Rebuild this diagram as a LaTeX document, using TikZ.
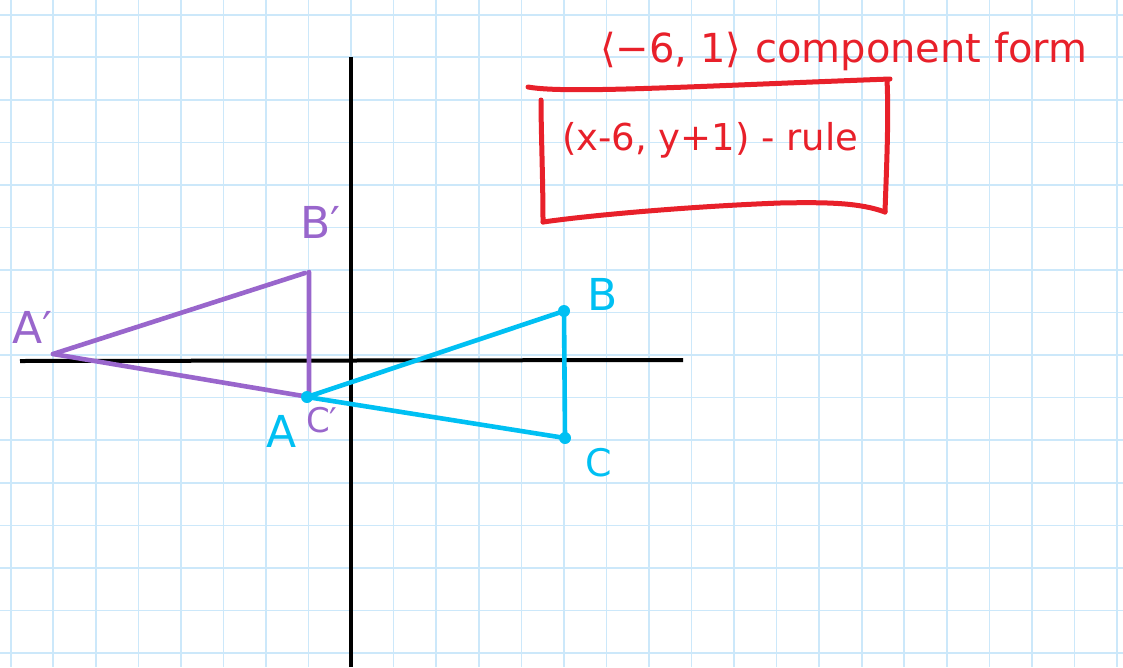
\documentclass[tikz,border=0pt]{standalone}
\usepackage{fontspec}
\setmainfont{DejaVu Sans}
\definecolor{gridblue}{RGB}{204,232,250}
\definecolor{purp}{RGB}{153,102,204}
\definecolor{cyanb}{RGB}{0,192,243}
\definecolor{redpen}{RGB}{232,32,42}
\tikzset{
  gridline/.style={draw=gridblue, line width=1.6pt},
  axisline/.style={draw=black, line width=4pt},
  purpline/.style={draw=purp, line width=4.6pt, line cap=round, line join=round},
  cyanline/.style={draw=cyanb, line width=4.6pt, line cap=round, line join=round},
  redline/.style={draw=redpen, line width=5pt, line cap=round, line join=round},
  lbl/.style={inner sep=0pt, anchor=base west},
  vdot/.style={circle, fill=cyanb, inner sep=0pt, minimum size=12pt},
}
\begin{document}
\begin{tikzpicture}[x=1pt, y=-1pt]
\fill[white] (0,0) rectangle (1123,667);
\useasboundingbox (0,0) rectangle (1123,667);
% grid
\foreach \k in {0,...,26} {
  \draw[gridline] ({10.7+42.55*\k},0) -- ({10.7+42.55*\k},667);
}
\foreach \k in {0,...,15} {
  \draw[gridline] (0,{14.7+42.55*\k}) -- (1123,{14.7+42.55*\k});
}
% axes
\coordinate (xl) at (20,361);
\coordinate (xr) at (683,360);
\coordinate (yt) at (351,57);
\coordinate (yb) at (351,667);
\draw[axisline] (xl) -- (xr);
\draw[axisline] (yt) -- (yb);
% purple triangle
\coordinate (Ap) at (53,354);
\coordinate (Bp) at (305,273);
\coordinate (Bp2) at (309,272);
\coordinate (Cp) at (309,397);
\draw[purpline] (Ap) -- (Bp);
\draw[purpline] (Bp2) -- (Cp) -- (Ap);
% cyan triangle
\node[vdot] (A) at (307,397) {};
\node[vdot] (B) at (564,311) {};
\node[vdot] (C) at (565,438) {};
\draw[cyanline] (A.center) -- (B.center) -- (C.center) -- (A.center);
% labels
\node[lbl, text=purp, font=\fontsize{44}{48}\selectfont] (lAp) at (12,343) {A′};
\node[lbl, text=purp, font=\fontsize{44}{48}\selectfont] (lBp) at (300,238) {B′};
\node[lbl, text=purp, font=\fontsize{34}{38}\selectfont] (lCp) at (306,432) {C′};
\node[lbl, text=cyanb, font=\fontsize{44}{48}\selectfont] (lA) at (266,447) {A};
\node[lbl, text=cyanb, font=\fontsize{44}{48}\selectfont] (lB) at (587,310) {B};
\node[lbl, text=cyanb, font=\fontsize{38}{42}\selectfont] (lC) at (585,476) {C};
% red annotation
\node[lbl, text=redpen, font=\fontsize{40}{44}\selectfont] (comp) at (600,62) {⟨−6, 1⟩\hspace{14pt}component form};
\coordinate (r1) at (528,87);
\coordinate (r2) at (890,79);
\coordinate (r3) at (885,212);
\coordinate (r4) at (543,222);
\coordinate (r5) at (541,100);
\draw[redline] (r1) .. controls (565,94) and (700,86) .. (r2);
\draw[redline] (887,80) .. controls (889,120) and (886,180) .. (r3);
\draw[redline] (r3) .. controls (860,203) and (830,202) .. (780,203) .. controls (700,206) and (600,214) .. (r4);
\draw[redline] (r4) .. controls (543,180) and (541,130) .. (r5);
\node[lbl, text=redpen, font=\fontsize{37}{42}\selectfont] (rule) at (562,150) {(x-6, y+1) - rule};
\end{tikzpicture}
\end{document}
